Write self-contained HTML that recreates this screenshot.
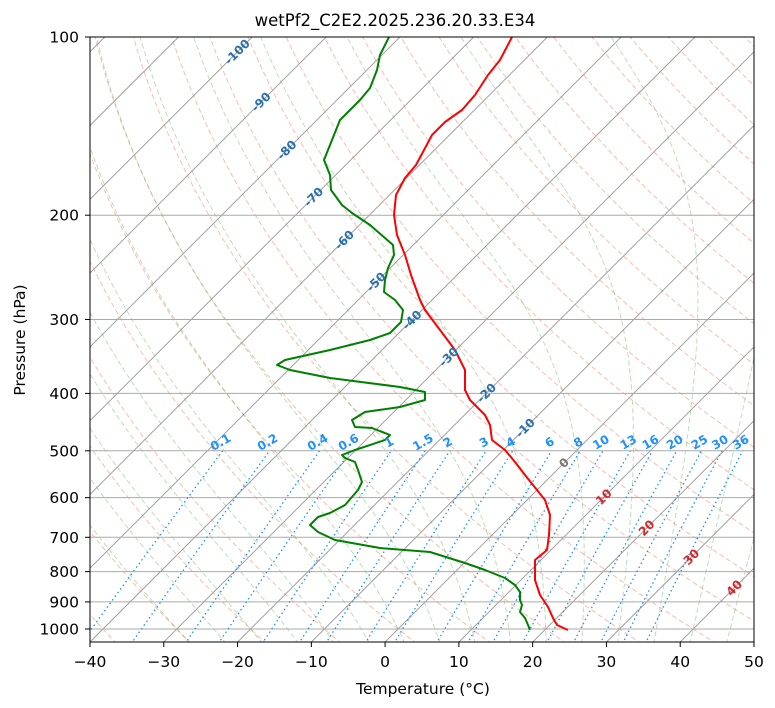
<!DOCTYPE html>
<html><head><meta charset="utf-8"><style>
html,body{margin:0;padding:0;background:#fff;}
svg{display:block;font-family:"DejaVu Sans","Liberation Sans",sans-serif;}
</style></head><body>
<svg id="s" width="775" height="708" viewBox="0 0 775 708" xmlns="http://www.w3.org/2000/svg">
<defs><clipPath id="c"><rect x="90" y="37" width="664" height="605"/></clipPath></defs>
<rect width="775" height="708" fill="#fff"/>
<g id="bg" clip-path="url(#c)"></g>
<g clip-path="url(#c)">
<polyline fill="none" stroke="#ff0000" stroke-width="2" stroke-linejoin="round" points="512,37 500,60 488,75 475,95 462,110 445,122 432,135 424,150 416,165 405,178 396,195 394,215 397,235 405,255 411,275 420,300 425,310 440,330 455,350 465,370 465,390 470,400 485,415 490,425 492,440 505,450 515,462 525,475 537,490 545,500 550,515 549,535 547,550 535,560 535,580 540,595 548,607 553,618 557,625 568,630"/>
<polyline fill="none" stroke="#008000" stroke-width="2" stroke-linejoin="round" points="389,37 380,55 377,70 370,88 360,100 340,120 336,130 332,140 324,160 330,175 331,190 342,205 352,213 370,225 393,245 394,255 388,268 385,280 384,292 395,300 403,310 401,322 390,333 370,340 330,350 285,360 277,365 290,370 330,378 400,387 425,392 425,400 400,407 365,412 352,420 355,427 372,428 390,435 385,440 355,450 342,455 345,458 355,462 358,470 362,482 358,490 345,505 330,513 318,517 310,525 318,532 335,540 380,548 430,552 465,563 485,570 505,578 515,585 520,592 520,600 522,605 520,612 525,618 528,625 530,630"/>
</g>
<g id="fg"></g>
<rect x="90" y="37" width="664" height="605" fill="none" stroke="#000" stroke-width="1"/>
<text x="395" y="26" font-size="16.5" text-anchor="middle">wetPf2_C2E2.2025.236.20.33.E34</text>
<text x="423" y="694" font-size="15.5" text-anchor="middle">Temperature (°C)</text>
<text transform="translate(25,340) rotate(-90)" font-size="15.5" text-anchor="middle">Pressure (hPa)</text>
</svg>
<script>
var NS="http://www.w3.org/2000/svg",bg=document.getElementById('bg'),fg=document.getElementById('fg');
var K=592/Math.log(10);
function Y(p){return 37+K*Math.log(p/100);}
function X(T,p){var y=Y(p);return 90+(T+40)*664/90+(642-y);}
function el(par,tag,at,txt){var e=document.createElementNS(NS,tag);for(var k in at)e.setAttribute(k,at[k]);if(txt!=null)e.textContent=txt;par.appendChild(e);return e;}
function line(par,pts,st){el(par,'polyline',Object.assign({points:pts.map(function(a){return a[0].toFixed(1)+','+a[1].toFixed(1)}).join(' '),fill:'none'},st));}
var ps=[];for(var p=1060;p>=95;p-=5)ps.push(p);
for(var th=-40;th<=220;th+=10){var pts=ps.map(function(p){var T=(th+273.15)*Math.pow(p/1000,0.2857)-273.15;return [X(T,p),Y(p)];});line(bg,pts,{stroke:'#f08060','stroke-opacity':0.5,'stroke-width':1,'stroke-dasharray':'5,3'});}
function es(T){return 6.112*Math.exp(17.67*T/(T+243.5));}
function dTdp(T,p){var Tk=T+273.15,e=es(T),rs=0.622*e/(p-e);var Rd=287,Lv=2.501e6,Cp=1005;return (1/p)*(Rd*Tk+Lv*rs)/(Cp+Lv*Lv*rs*0.622/(Rd*Tk*Tk));}
for(var t0=-30;t0<=45;t0+=5){var T=t0,pts=[],p=1000;pts.push([X(T,p),Y(p)]);
 for(p=1000;p>100;p-=2){T-=dTdp(T,p)*2;pts.push([X(T,p-2),Y(p-2)]);}
 var T2=t0,pd=[];for(p=1000;p<1060;p+=2){T2+=dTdp(T2,p)*2;pd.push([X(T2,p+2),Y(p+2)]);}
 pts=pd.reverse().concat(pts);
 line(bg,pts,{stroke:'#40a040','stroke-opacity':0.35,'stroke-width':1,'stroke-dasharray':'5,3'});}
for(var t=-160;t<=50;t+=10){line(bg,[[X(t,1060),Y(1060)],[X(t,90),Y(90)]],{stroke:'#888','stroke-width':1,'stroke-opacity':0.8});}
for(var p=100;p<=1000;p+=100){el(bg,'line',{x1:90,x2:754,y1:Y(p),y2:Y(p),stroke:'#aaa','stroke-width':1});}
var ws=[0.1,0.2,0.4,0.6,1,1.5,2,3,4,6,8,10,13,16,20,25,30,36];
function Td(w,p){var e=w*p/(622+w),l=Math.log(e/6.112);return 243.5*l/(17.67-l);}
ws.forEach(function(w){var pts=[];for(var p=1060;p>=500;p-=10)pts.push([X(Td(w,p),p),Y(p)]);
 line(bg,pts,{stroke:'#1e90ff','stroke-width':1.3,'stroke-dasharray':'1.5,3'});
 var x=X(Td(w,500),500),y=Y(500)-5;
 el(fg,'text',{x:x,y:y,'font-size':12,'font-weight':'bold',fill:'#1e90ff','text-anchor':'middle',transform:'rotate(-30 '+x+' '+y+')'},String(w));});
var lab=[[-100,52],[-90,102],[-80,150],[-70,197],[-60,240],[-50,282],[-40,320],[-30,357],[-20,393],[-10,428],[0,463],[10,497],[20,528],[30,557],[40,588]];
lab.forEach(function(a){var t=a[0],y=a[1],x=90+(t+40)*664/90+(642-y);var c=t<0?'#2a6fb0':(t==0?'#777':'#d62728');
 el(fg,'text',{x:x,y:y+4,'font-size':12,'font-weight':'bold',fill:c,'text-anchor':'middle',transform:'rotate(-45 '+x+' '+y+')'},String(t));});
for(var t=-40;t<=50;t+=10){var x=90+(t+40)*664/90;el(fg,'line',{x1:x,x2:x,y1:642,y2:647,stroke:'#000'});el(fg,'text',{x:x,y:667,'font-size':15.5,'text-anchor':'middle'},(t<0?'\u2212'+(-t):String(t)));}
for(var p=100;p<=1000;p+=100){var y=Y(p);el(fg,'line',{x1:85,x2:90,y1:y,y2:y,stroke:'#000'});el(fg,'text',{x:79,y:y+5.5,'font-size':15.5,'text-anchor':'end'},String(p));}
</script>
</body></html>
